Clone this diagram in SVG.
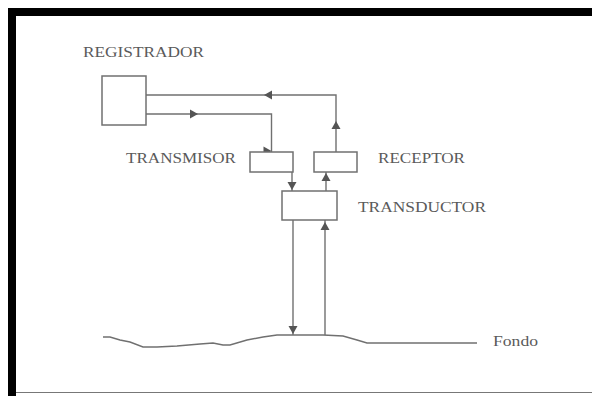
<svg xmlns="http://www.w3.org/2000/svg" width="592" height="396" viewBox="0 0 592 396">
<style>
.box{fill:#fff;stroke:#707070;stroke-width:1.5}
.ln{fill:none;stroke:#707070;stroke-width:1.4}
.ah{fill:#555}
.lb{font-family:"Liberation Serif","Times New Roman",serif;font-size:15px;fill:#5a5a5a}
</style>
<defs>
<path id="tri" d="M0,0 L-8,-4.5 L-8,4.5 Z"/>
</defs>
<rect width="592" height="396" fill="#fff"/>
<rect x="8" y="8" width="584" height="8" fill="#000"/>
<rect x="8" y="8" width="8" height="388" fill="#000"/>
<line x1="16" y1="392.5" x2="592" y2="392.5" stroke="#777" stroke-width="1.2"/>
<g id="connectors">
<path class="ln" d="M336,152 V95 H146"/>
<use href="#tri" class="ah" transform="translate(336,121) rotate(-90)"/>
<use href="#tri" class="ah" transform="translate(264,95) rotate(180)"/>
<path class="ln" d="M146,114 H271.5 V152"/>
<use href="#tri" class="ah" transform="translate(198,114)"/>
<use href="#tri" class="ah" transform="translate(271.5,151)"/>
<path class="ln" d="M292,172 V191"/>
<use href="#tri" class="ah" transform="translate(292,190) rotate(90)"/>
<path class="ln" d="M326,191 V172"/>
<use href="#tri" class="ah" transform="translate(326,173) rotate(-90)"/>
<path class="ln" d="M293,220 V335"/>
<use href="#tri" class="ah" transform="translate(293,334) rotate(90)"/>
<path class="ln" d="M325,335 V220"/>
<use href="#tri" class="ah" transform="translate(325,222) rotate(-90)"/>
</g>
<g id="registrador">
<rect class="box" x="102" y="76" width="44" height="49"/>
<text class="lb" x="83" y="57" textLength="121" lengthAdjust="spacingAndGlyphs">REGISTRADOR</text>
</g>
<g id="transmisor">
<rect class="box" x="250" y="152" width="43" height="20"/>
<text class="lb" x="126" y="163" textLength="110" lengthAdjust="spacingAndGlyphs">TRANSMISOR</text>
</g>
<g id="receptor">
<rect class="box" x="314" y="152" width="43" height="20"/>
<text class="lb" x="378" y="163" textLength="87" lengthAdjust="spacingAndGlyphs">RECEPTOR</text>
</g>
<g id="transductor">
<rect class="box" x="282" y="191" width="55" height="29"/>
<text class="lb" x="358" y="212" textLength="128" lengthAdjust="spacingAndGlyphs">TRANSDUCTOR</text>
</g>
<g id="fondo">
<path class="ln" d="M103,337 L110,337 L120,340 L130,342 L143,347 L157,347 L177,346 L200,344 L213,343 L223,345 L230,345 L247,340 L263,337 L277,335 L297,335 L323,335 L343,336 L357,340 L367,343 L390,343 L477,343"/>
<text class="lb" x="493" y="346" textLength="45" lengthAdjust="spacingAndGlyphs">Fondo</text>
</g>
</svg>
